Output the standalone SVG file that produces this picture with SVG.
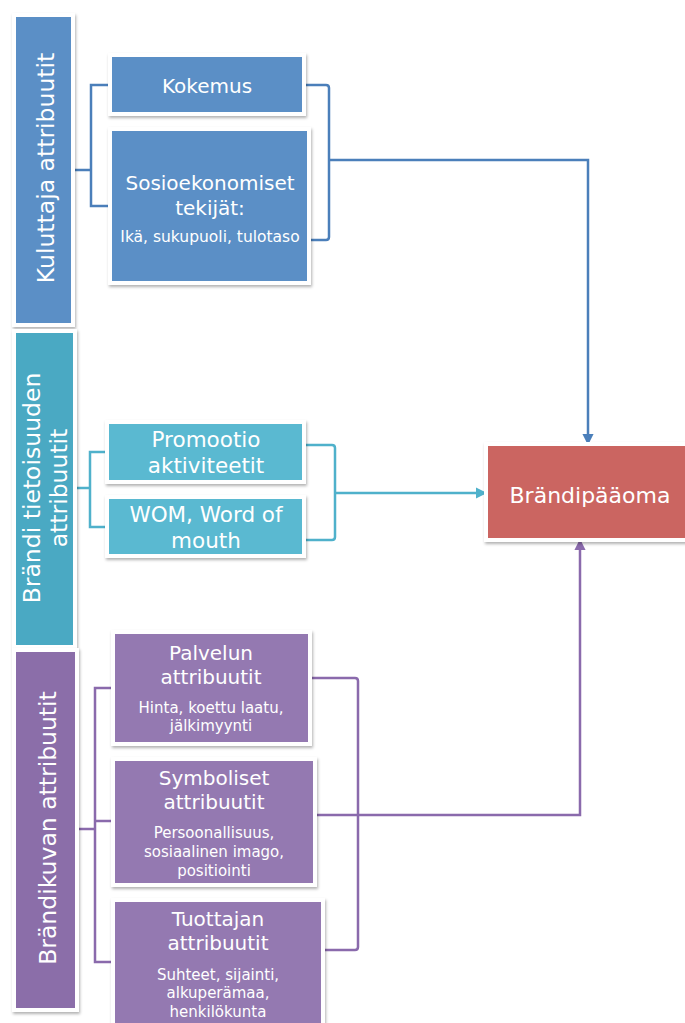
<svg xmlns="http://www.w3.org/2000/svg" width="685" height="1023" viewBox="0 0 685 1023">
<style>
.frame{fill:#fff;filter:url(#sh)}
.blue{fill:#5b8fc6}
.teal{fill:#5ab9d1}
.tealB{fill:#4aa9c3}
.purp{fill:#9479b1}
.purpB{fill:#8b6ea9}
.red{fill:#cb6561}
text{font-family:"DejaVu Sans","Liberation Sans",sans-serif;fill:#fff;text-anchor:middle}
.tv{font-size:23.5px}
.t22{font-size:21.5px}
.tb{font-size:22px}
.t20{font-size:20px}
.t15{font-size:15.5px}
.t14{font-size:15px}
.cb{fill:none;stroke:#4b7fba;stroke-width:2.5}
.ct{fill:none;stroke:#4fb1cb;stroke-width:2.5}
.cp{fill:none;stroke:#8a6aac;stroke-width:2.5}
</style>
<defs>
<filter id="sh" x="-10%" y="-10%" width="120%" height="120%">
<feDropShadow dx="1" dy="2" stdDeviation="1.5" flood-color="#000" flood-opacity="0.3"/>
</filter>
<marker id="ab" viewBox="0 0 10 10" refX="9" refY="5" markerWidth="4.5" markerHeight="4.5" orient="auto"><path d="M0,0 L10,5 L0,10 z" fill="#4b7fba"/></marker>
<marker id="at" viewBox="0 0 10 10" refX="9" refY="5" markerWidth="4.5" markerHeight="4.5" orient="auto"><path d="M0,0 L10,5 L0,10 z" fill="#4fb1cb"/></marker>
<marker id="ap" viewBox="0 0 10 10" refX="9" refY="5" markerWidth="4.5" markerHeight="4.5" orient="auto"><path d="M0,0 L10,5 L0,10 z" fill="#8a6aac"/></marker>
</defs>
<rect width="685" height="1023" fill="#fff"/>

<g id="connectors">
<path class="cb" d="M75,170 H91 M112,85 H91 V206 H112"/>
<path class="cb" d="M302,85 H326 Q329,85 329,88 V237 Q329,240 326,240 H306"/>
<path class="cb" d="M329,160 H588 V444" marker-end="url(#ab)"/>
<path class="ct" d="M77,488 H90 M109,452 H90 V527 H109"/>
<path class="ct" d="M300,445 H332 Q335,445 335,448 V537 Q335,540 332,540 H300"/>
<path class="ct" d="M335,493 H486" marker-end="url(#at)"/>
<path class="cp" d="M79,829 H95 M115,688 H95 V962 H115 M95,821 H115"/>
<path class="cp" d="M307,678 H355 Q358,678 358,681 V947 Q358,950 355,950 H307"/>
<path class="cp" d="M310,815 H580 V540" marker-end="url(#ap)"/>
</g>

<g id="kuluttaja">
<rect class="frame" x="12" y="13" width="63" height="314"/>
<rect class="blue" x="16" y="17" width="55" height="306"/>
<text class="tv" transform="translate(54,168) rotate(-90)">Kuluttaja attribuutit</text>
</g>
<g id="kokemus">
<rect class="frame" x="108" y="53" width="198" height="63"/>
<rect class="blue" x="112" y="57" width="190" height="55"/>
<text class="t20" x="207" y="93">Kokemus</text>
</g>
<g id="sosio">
<rect class="frame" x="108" y="127" width="203" height="158"/>
<rect class="blue" x="112" y="131" width="195" height="150"/>
<text class="t20" x="210" y="190">Sosioekonomiset</text>
<text class="t20" x="210" y="215">tekijät:</text>
<text class="t15" x="210" y="242">Ikä, sukupuoli, tulotaso</text>
</g>

<g id="tietoisuus">
<rect class="frame" x="12" y="329" width="65" height="320"/>
<rect class="tealB" x="16" y="333" width="57" height="312"/>
<text class="tv" transform="translate(40,488) rotate(-90)">Brändi tietoisuuden</text>
<text class="tv" transform="translate(67,488) rotate(-90)">attribuutit</text>
</g>
<g id="promootio">
<rect class="frame" x="105" y="420" width="201" height="64"/>
<rect class="teal" x="109" y="424" width="193" height="56"/>
<text class="t22" x="206" y="447">Promootio</text>
<text class="t22" x="206" y="473">aktiviteetit</text>
</g>
<g id="wom">
<rect class="frame" x="105" y="495" width="201" height="63"/>
<rect class="teal" x="109" y="499" width="193" height="55"/>
<text class="t22" x="206" y="522">WOM, Word of</text>
<text class="t22" x="206" y="548">mouth</text>
</g>

<g id="brandikuva">
<rect class="frame" x="12" y="648" width="67" height="364"/>
<rect class="purpB" x="16" y="652" width="59" height="356"/>
<text class="tv" transform="translate(56,828) rotate(-90)">Brändikuvan attribuutit</text>
</g>
<g id="palvelun">
<rect class="frame" x="111" y="630" width="201" height="116"/>
<rect class="purp" x="115" y="634" width="193" height="108"/>
<text class="t20" x="211" y="660">Palvelun</text>
<text class="t20" x="211" y="684">attribuutit</text>
<text class="t14" x="211" y="713">Hinta, koettu laatu,</text>
<text class="t14" x="211" y="731">jälkimyynti</text>
</g>
<g id="symboliset">
<rect class="frame" x="111" y="757" width="206" height="130"/>
<rect class="purp" x="115" y="761" width="198" height="122"/>
<text class="t20" x="214" y="785">Symboliset</text>
<text class="t20" x="214" y="809">attribuutit</text>
<text class="t14" x="214" y="838">Persoonallisuus,</text>
<text class="t14" x="214" y="857">sosiaalinen imago,</text>
<text class="t14" x="214" y="876">positiointi</text>
</g>
<g id="tuottajan">
<rect class="frame" x="111" y="898" width="214" height="130"/>
<rect class="purp" x="115" y="902" width="206" height="126"/>
<text class="t20" x="218" y="926">Tuottajan</text>
<text class="t20" x="218" y="950">attribuutit</text>
<text class="t14" x="218" y="980">Suhteet, sijainti,</text>
<text class="t14" x="218" y="998">alkuperämaa,</text>
<text class="t14" x="218" y="1017">henkilökunta</text>
</g>

<g id="brandipaaoma">
<rect class="frame" x="484" y="442" width="210" height="100"/>
<rect class="red" x="488" y="446" width="206" height="92"/>
<text class="tb" x="590" y="503">Brändipääoma</text>
</g>
</svg>
